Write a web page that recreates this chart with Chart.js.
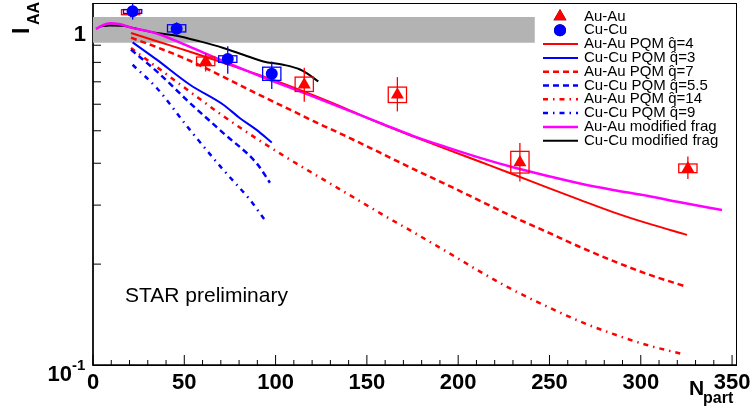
<!DOCTYPE html>
<html>
<head>
<meta charset="utf-8">
<title>IAA vs Npart</title>
<script src="https://cdn.jsdelivr.net/npm/chart.js@4.4.0/dist/chart.umd.min.js"></script>
<style>
  body { margin: 0; background: #fff; }
  #wrap { width: 752px; height: 413px; }
</style>
</head>
<body>
<div id="wrap"><canvas id="iaa-chart" width="752" height="413"></canvas></div>
<script>
// ---- data points ----
const auNpart   = [20.6, 61.7, 115.7, 166.7, 233.8, 325.8];
const auIaa     = [1.13, 0.805, 0.686, 0.640, 0.402, 0.386];
const auStatLo  = [1.09, 0.752, 0.610, 0.571, 0.353, 0.359];
const auStatHi  = [1.17, 0.853, 0.771, 0.723, 0.460, 0.419];
const auSysLo   = [1.110, 0.782, 0.655, 0.607, 0.374, 0.375];
const auSysHi   = [1.149, 0.830, 0.723, 0.675, 0.434, 0.398];

const cuNpart   = [21.7, 45.8, 73.8, 97.9];
const cuIaa     = [1.136, 1.008, 0.819, 0.740];
const cuStatLo  = [1.073, 0.968, 0.740, 0.666];
const cuStatHi  = [1.197, 1.053, 0.893, 0.805];
const cuSysLo   = [1.12, 0.986, 0.800, 0.707];
const cuSysHi   = [1.15, 1.036, 0.837, 0.774];

// ---- model curves ----
const auPqm4X  = [20.8, 35.0, 53.1, 71.2, 89.8, 107.9, 126.0, 139.1, 157.2, 175.2, 193.9, 212.0, 230.0, 248.6, 266.7, 284.8, 303.4, 325.3];
const auPqm4Y  = [0.979, 0.925, 0.861, 0.798, 0.737, 0.679, 0.621, 0.580, 0.526, 0.481, 0.440, 0.404, 0.371, 0.339, 0.311, 0.286, 0.265, 0.2445];
const cuPqm3X  = [21.7, 34.9, 53.1, 71.4, 80.5, 89.6, 97.9];
const cuPqm3Y  = [0.918, 0.815, 0.686, 0.598, 0.545, 0.503, 0.461];
const auPqm7X  = [20.8, 35.0, 53.1, 71.2, 89.8, 107.9, 120.5, 139.1, 157.2, 175.3, 193.9, 212.0, 230.0, 248.6, 266.7, 284.8, 303.4, 325.3];
const auPqm7Y  = [0.948, 0.888, 0.809, 0.725, 0.645, 0.578, 0.535, 0.480, 0.430, 0.385, 0.345, 0.309, 0.277, 0.2495, 0.225, 0.2045, 0.187, 0.171];
const cuPqm55X = [20.8, 34.9, 53.1, 71.4, 89.6, 96.9];
const cuPqm55Y = [0.873, 0.752, 0.605, 0.492, 0.400, 0.350];
const auPqm14X = [20.8, 35.0, 53.1, 71.2, 89.8, 107.9, 120.5, 139.1, 157.2, 175.2, 193.9, 212.0, 230.0, 248.6, 266.7, 284.8, 303.4, 322.6];
const auPqm14Y = [0.883, 0.774, 0.654, 0.554, 0.473, 0.410, 0.373, 0.325, 0.284, 0.2495, 0.2175, 0.190, 0.1675, 0.1495, 0.1349, 0.1238, 0.1147, 0.1079];
const cuPqm9X  = [21.7, 34.9, 53.1, 71.4, 86.0, 95.1];
const cuPqm9Y  = [0.787, 0.671, 0.503, 0.382, 0.311, 0.266];
const auFragX  = [1.6, 5.5, 9.3, 14.8, 21.9, 31.2, 40.5, 49.3, 58.6, 73.4, 86.0, 98.0, 117.2, 135.3, 157.2, 175.2, 193.9, 212.0, 230.0, 248.6, 266.7, 284.8, 303.4, 321.5, 344.5];
const auFragY  = [1.006, 1.033, 1.047, 1.040, 1.012, 0.988, 0.951, 0.909, 0.864, 0.798, 0.748, 0.705, 0.643, 0.588, 0.528, 0.483, 0.446, 0.415, 0.389, 0.367, 0.348, 0.333, 0.320, 0.306, 0.290];
const cuFragX  = [3.8, 9.3, 16.6, 22.1, 34.9, 45.8, 58.6, 71.4, 82.3, 93.3, 104.2, 113.4, 117.0, 123.4];
const cuFragY  = [1.024, 1.031, 1.029, 1.013, 0.979, 0.961, 0.924, 0.883, 0.843, 0.805, 0.787, 0.762, 0.743, 0.702];

// normalisation uncertainty band
const bandX  = [0, 242];
const bandHi = 1.093;
const bandLo = 0.915;

// axis ticks
const xMajorTicks = [0, 50, 100, 150, 200, 250, 300, 350];
const xMinorTicks = [10, 20, 30, 40, 60, 70, 80, 90, 110, 120, 130, 140, 160, 170, 180, 190,
                     210, 220, 230, 240, 260, 270, 280, 290, 310, 320, 330, 340];
const yMinorTicks = [0.2, 0.3, 0.4, 0.5, 0.6, 0.7, 0.8, 0.9];

const FONT = '"Liberation Sans", Arial, Helvetica, sans-serif';
const RED = '#ff0000', BLUE = '#0000ff';
const DASH = [6, 4];
const DASHDOT = [5, 5, 1.5, 5];
const BOX_HALF = 5; // half width of syst. boxes, in Npart

const pts = (xs, ys) => xs.map((x, i) => ({ x, y: ys[i] }));

function curve(label, xs, ys, color, dash, width, order) {
    return {
        label, data: pts(xs, ys), borderColor: color, borderDash: dash, borderWidth: width,
        pointRadius: 0, fill: false, cubicInterpolationMode: 'monotone', order
    };
}

const datasets = [
    {
        label: 'Cu-Cu', data: pts(cuNpart, cuIaa), showLine: false, clip: false,
        pointStyle: 'circle', pointRadius: 6, pointBorderWidth: 0,
        pointBackgroundColor: BLUE, borderColor: BLUE, order: 0,
        errors: { statLo: cuStatLo, statHi: cuStatHi, sysLo: cuSysLo, sysHi: cuSysHi }
    },
    {
        label: 'Au-Au', data: pts(auNpart, auIaa), showLine: false, clip: false,
        pointStyle: 'triangle', pointRadius: [5.5, 7.5, 7.5, 7.5, 7.5, 7.5], pointBorderWidth: 0,
        pointBackgroundColor: RED, borderColor: RED, order: 1,
        errors: { statLo: auStatLo, statHi: auStatHi, sysLo: auSysLo, sysHi: auSysHi }
    },
    curve('Au-Au PQM q\u0302=4', auPqm4X, auPqm4Y, RED, [], 2, 5),
    curve('Cu-Cu PQM q\u0302=3', cuPqm3X, cuPqm3Y, BLUE, [], 2, 6),
    curve('Au-Au PQM q\u0302=7', auPqm7X, auPqm7Y, RED, DASH, 2.5, 7),
    curve('Cu-Cu PQM q\u0302=5.5', cuPqm55X, cuPqm55Y, BLUE, DASH, 2.5, 8),
    curve('Au-Au PQM q\u0302=14', auPqm14X, auPqm14Y, RED, DASHDOT, 2.5, 9),
    curve('Cu-Cu PQM q\u0302=9', cuPqm9X, cuPqm9Y, BLUE, DASHDOT, 2.5, 10),
    curve('Au-Au modified frag', auFragX, auFragY, '#ff00ff', [], 2.5, 3),
    curve('Cu-Cu modified frag', cuFragX, cuFragY, '#000000', [], 2, 4),
    {
        label: 'band', data: bandX.map(x => ({ x, y: bandHi })), borderWidth: 0, pointRadius: 0,
        backgroundColor: '#b3b3b3', fill: '+1', order: 20
    },
    {
        label: 'band-lo', data: bandX.map(x => ({ x, y: bandLo })), borderWidth: 0, pointRadius: 0,
        fill: false, order: 21
    }
];

const legendOrder = ['Au-Au', 'Cu-Cu', 'Au-Au PQM q\u0302=4', 'Cu-Cu PQM q\u0302=3', 'Au-Au PQM q\u0302=7',
    'Cu-Cu PQM q\u0302=5.5', 'Au-Au PQM q\u0302=14', 'Cu-Cu PQM q\u0302=9',
    'Au-Au modified frag', 'Cu-Cu modified frag'];

// error bars + systematic boxes, drawn right before their markers
const errorBars = {
    id: 'errorBars',
    beforeDatasetDraw(chart, args) {
        const ds = chart.data.datasets[args.index];
        if (!ds.errors) return;
        const { ctx, scales: { x, y } } = chart;
        const e = ds.errors;
        ctx.save();
        ctx.strokeStyle = ds.borderColor;
        ctx.lineWidth = 1.3;
        ds.data.forEach((p, i) => {
            const px = x.getPixelForValue(p.x);
            ctx.beginPath();
            ctx.moveTo(px, y.getPixelForValue(e.statLo[i]));
            ctx.lineTo(px, y.getPixelForValue(e.statHi[i]));
            ctx.stroke();
            const x0 = x.getPixelForValue(p.x - BOX_HALF), x1 = x.getPixelForValue(p.x + BOX_HALF);
            const y0 = y.getPixelForValue(e.sysHi[i]), y1 = y.getPixelForValue(e.sysLo[i]);
            ctx.strokeRect(x0, y0, x1 - x0, y1 - y0);
        });
        ctx.restore();
    }
};

// ROOT-like frame and inward ticks, under the datasets (the grey band covers them)
const rootAxes = {
    id: 'rootAxes',
    beforeDatasetsDraw(chart) {
        const { ctx, chartArea: a, scales: { x, y } } = chart;
        ctx.save();
        ctx.strokeStyle = '#000';
        ctx.lineWidth = 1;
        ctx.strokeRect(a.left, a.top + 0.5, a.right - a.left - 0.5, a.bottom - a.top);
        ctx.lineWidth = 1.5;
        ctx.beginPath();
        ctx.moveTo(a.left, a.top); ctx.lineTo(a.left, a.bottom); ctx.lineTo(a.right, a.bottom);
        ctx.stroke();

        ctx.lineWidth = 1;
        ctx.beginPath();
        xMajorTicks.forEach(v => { const p = x.getPixelForValue(v); ctx.moveTo(p, a.bottom); ctx.lineTo(p, a.bottom - 10); });
        xMinorTicks.forEach(v => { const p = x.getPixelForValue(v); ctx.moveTo(p, a.bottom); ctx.lineTo(p, a.bottom - 5); });
        yMinorTicks.forEach(v => { const p = y.getPixelForValue(v); ctx.moveTo(a.left, p); ctx.lineTo(a.left + 8, p); });
        const p1 = y.getPixelForValue(1);
        ctx.moveTo(a.left, p1); ctx.lineTo(a.left + 14, p1);
        ctx.stroke();
        ctx.restore();
    }
};

// labels, titles and legend
const rootText = {
    id: 'rootText',
    afterDraw(chart) {
        const { ctx, chartArea: a, scales: { x, y } } = chart;
        ctx.save();
        ctx.fillStyle = '#000';
        ctx.font = `bold 22px ${FONT}`;
        ctx.textAlign = 'center';
        ctx.textBaseline = 'alphabetic';
        xMajorTicks.forEach(v => ctx.fillText(String(v), x.getPixelForValue(v), a.bottom + 24));
        ctx.textAlign = 'right';
        const p1 = y.getPixelForValue(1);
        ctx.fillText('1', 86, p1 + 11.5);
        const p01 = y.getPixelForValue(0.1);
        ctx.fillText('10', 72, p01 + 15.5);
        ctx.textAlign = 'left';
        ctx.font = `bold 15px ${FONT}`;
        ctx.fillText('-1', 72, p01 + 5);

        // x title
        ctx.font = `bold 21px ${FONT}`;
        ctx.fillText('N', 689, 395);
        ctx.font = `bold 16px ${FONT}`;
        ctx.fillText('part', 703, 403);

        // y title (rotated)
        ctx.save();
        ctx.translate(28.5, 34);
        ctx.rotate(-Math.PI / 2);
        ctx.font = `bold 23px ${FONT}`;
        ctx.fillText('I', 0, 0);
        ctx.font = `bold 16px ${FONT}`;
        ctx.fillText('AA', 9, 10);
        ctx.restore();

        ctx.font = `21px ${FONT}`;
        ctx.fillText('STAR preliminary', 125, 301.5);

        // legend
        ctx.font = `15px ${FONT}`;
        ctx.textBaseline = 'middle';
        legendOrder.forEach((lab, i) => {
            const ds = chart.data.datasets.find(d => d.label === lab);
            const cy = 16.5 + i * 13.8;
            if (ds.showLine === false) {
                const r = ds.pointStyle === 'triangle' ? 7.5 : 6;
                Chart.helpers.drawPoint(ctx, { pointStyle: ds.pointStyle, radius: r, borderWidth: 0 }, 560, cy);
                ctx.fillStyle = ds.pointBackgroundColor;
                ctx.fill();
            } else {
                ctx.save();
                ctx.strokeStyle = ds.borderColor;
                ctx.lineWidth = ds.borderWidth;
                ctx.setLineDash(ds.borderDash);
                ctx.beginPath(); ctx.moveTo(543, cy); ctx.lineTo(578, cy); ctx.stroke();
                ctx.restore();
            }
            ctx.fillStyle = '#000';
            ctx.fillText(lab, 584, cy);
        });
        ctx.restore();
    }
};

new Chart(document.getElementById('iaa-chart'), {
    type: 'line',
    data: { datasets },
    options: {
        responsive: false,
        animation: false,
        devicePixelRatio: 1,
        events: [],
        layout: { autoPadding: false, padding: { left: 93, top: 3, right: 15, bottom: 48 } },
        plugins: { legend: { display: false }, tooltip: { enabled: false } },
        scales: {
            x: { type: 'linear', min: 0, max: 352.7, display: false },
            y: { type: 'logarithmic', min: 0.1, max: 1.203, display: false }
        }
    },
    plugins: [rootAxes, errorBars, rootText]
});
</script>
</body>
</html>
